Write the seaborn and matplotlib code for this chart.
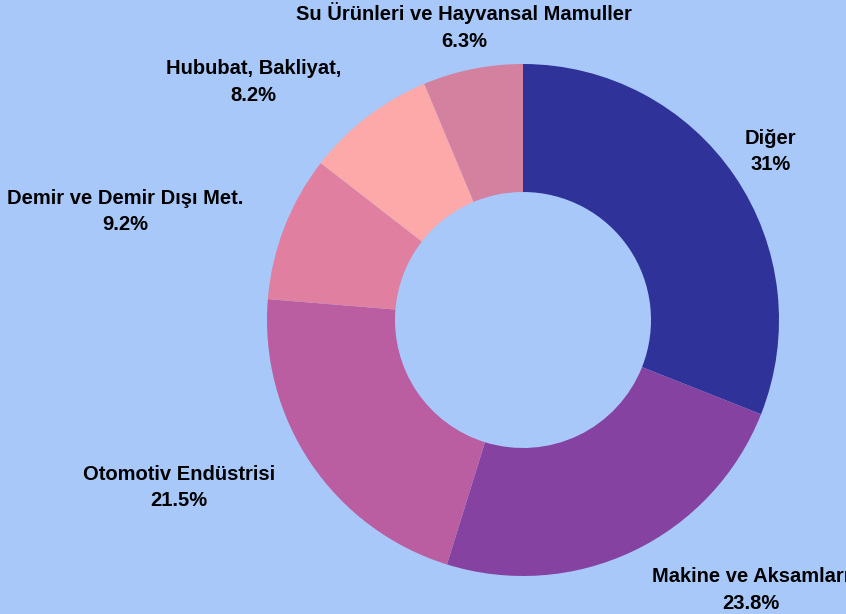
import matplotlib
matplotlib.use('Agg')
import matplotlib.pyplot as plt
import seaborn as sns
import numpy as np

categories = ["Diğer", "Makine ve Aksamları", "Otomotiv Endüstrisi",
              "Demir ve Demir Dışı Met.", "Hububat, Bakliyat,",
              "Su Ürünleri ve Hayvansal Mamuller"]
shares = [31.0, 23.8, 21.5, 9.2, 8.2, 6.3]
pct_labels = ["31%", "23.8%", "21.5%", "9.2%", "8.2%", "6.3%"]
label_align = ["center", "left", "right", "right", "right", "center"]

colors = sns.color_palette(["#2f3399", "#8542a0", "#bb5ea1", "#e07fa0", "#fda8a9", "#d4809f"])
bg = "#a8c8fa"

sns.set_style("white")
plt.rcParams['font.family'] = ['Liberation Sans', 'DejaVu Sans']

fig = plt.figure(figsize=(8.46, 6.14), dpi=100, facecolor=bg)
ax = fig.add_axes([0, 0, 1, 1])
ax.set_facecolor(bg)

wedges, _ = ax.pie(shares, colors=colors, startangle=90, counterclock=False,
                   radius=1.0, wedgeprops=dict(width=0.5, edgecolor='none'))

# labels at the mid angle of each wedge, a bit outside the ring
for w, name, pct, ha in zip(wedges, categories, pct_labels, label_align):
    mid = np.deg2rad((w.theta1 + w.theta2) / 2)
    x, y = 1.17 * np.cos(mid), 1.17 * np.sin(mid)
    ax.text(x, y, f"{name}\n{pct}", ha=ha, va='center', multialignment='center',
            fontsize=14.5, fontweight='bold', color='black', linespacing=1.5)

ax.set_xlim(-523 / 256, (846 - 523) / 256)
ax.set_ylim((320 - 614) / 256, 320 / 256)
ax.set_aspect('auto')
ax.axis('off')

fig.savefig("out.png", dpi=100, facecolor=bg)
